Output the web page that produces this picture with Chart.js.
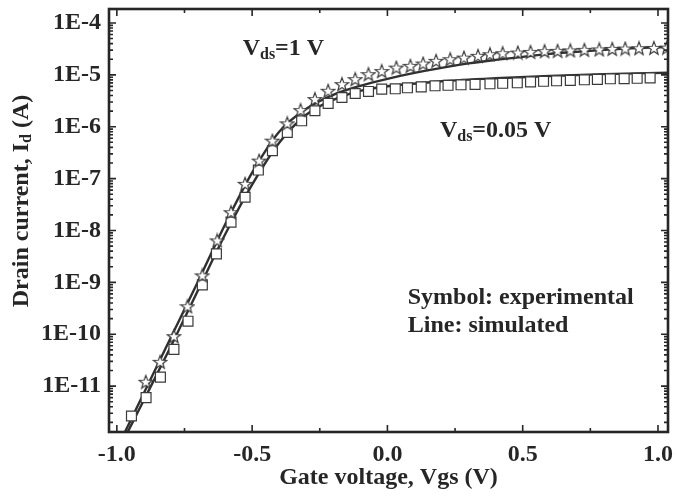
<!DOCTYPE html>
<html><head><meta charset="utf-8">
<script src="https://cdn.jsdelivr.net/npm/chart.js@4/dist/chart.umd.min.js"></script>
<style>html,body{margin:0;padding:0;background:#fff;}#wrap{width:677px;height:496px;}</style>
</head><body><div id="wrap"><canvas id="c" width="677" height="496"></canvas></div>
<script>
// Experimental points, Vds = 0.05 V (squares)
const vgsSquares = [-0.946,-0.892,-0.839,-0.789,-0.737,-0.684,-0.632,-0.578,-0.526,-0.477,-0.425,-0.370,-0.317,-0.268,-0.219,-0.168,-0.119,-0.070,-0.021,0.029,0.074,0.125,0.176,0.224,0.272,0.324,0.379,0.426,0.480,0.529,0.577,0.625,0.676,0.728,0.776,0.824,0.875,0.923,0.971];
const idSquares = [2.65e-12,6.0e-12,1.49e-11,5.1e-11,1.78e-10,8.95e-10,3.53e-9,1.45e-8,4.37e-8,1.46e-7,3.45e-7,7.76e-7,1.30e-6,2.03e-6,2.81e-6,3.66e-6,4.37e-6,4.78e-6,5.31e-6,5.38e-6,5.62e-6,5.87e-6,6.14e-6,6.28e-6,6.43e-6,6.56e-6,6.71e-6,6.87e-6,7.02e-6,7.33e-6,7.50e-6,7.67e-6,7.83e-6,8.02e-6,8.18e-6,8.38e-6,8.45e-6,8.57e-6,8.75e-6];
// Experimental points, Vds = 1 V (stars)
const vgsStars = [-0.893,-0.840,-0.789,-0.739,-0.684,-0.629,-0.578,-0.526,-0.474,-0.425,-0.370,-0.321,-0.268,-0.219,-0.168,-0.119,-0.070,-0.021,0.033,0.085,0.132,0.180,0.232,0.283,0.335,0.379,0.426,0.482,0.529,0.581,0.629,0.676,0.728,0.783,0.831,0.879,0.930,0.985,1.033];
const idStars = [1.21e-11,2.93e-11,9.16e-11,3.45e-10,1.36e-9,6.43e-9,2.25e-8,7.91e-8,2.22e-7,5.38e-7,1.16e-6,2.09e-6,3.41e-6,4.92e-6,6.62e-6,8.26e-6,1.03e-5,1.18e-5,1.38e-5,1.49e-5,1.65e-5,1.86e-5,2.00e-5,2.15e-5,2.32e-5,2.50e-5,2.61e-5,2.69e-5,2.77e-5,2.86e-5,2.90e-5,2.96e-5,3.03e-5,3.09e-5,3.16e-5,3.21e-5,3.26e-5,3.30e-5,3.35e-5];
// Simulated curves
const vgsSim1 = [-0.97,-0.9,-0.8,-0.7,-0.6,-0.5,-0.4,-0.3,-0.2,-0.1,0,0.1,0.2,0.3,0.4,0.5,0.6,0.7,0.8,0.9,1.04];
const idSim1  = [1.30e-12,7.33e-12,8.75e-11,1.04e-9,1.30e-8,1.30e-7,8.02e-7,2.22e-6,4.12e-6,6.14e-6,8.38e-6,1.09e-5,1.36e-5,1.66e-5,1.94e-5,2.22e-5,2.54e-5,2.77e-5,3.03e-5,3.24e-5,3.45e-5];
const vgsSim2 = [-0.96,-0.9,-0.8,-0.7,-0.6,-0.5,-0.4,-0.3,-0.2,-0.1,0,0.2,0.4,0.6,0.8,1.04];
const idSim2  = [1.30e-12,5.38e-12,5.87e-11,7.01e-10,8.38e-9,7.67e-8,4.92e-7,1.70e-6,3.30e-6,4.92e-6,6.01e-6,7.50e-6,8.60e-6,9.50e-6,1.03e-5,1.10e-5];
// Axis ticks
const xTickValues = [-1.0,-0.5,0.0,0.5,1.0];
const xTickLabels = ['-1.0','-0.5','0.0','0.5','1.0'];
const xMinorTicks = [-0.75,-0.25,0.25,0.75];
const yTickValues = [1e-11,1e-10,1e-9,1e-8,1e-7,1e-6,1e-5,1e-4];
const yTickLabels = ['1E-11','1E-10','1E-9','1E-8','1E-7','1E-6','1E-5','1E-4'];
// Text annotations (anchored in data units: left x, baseline y)
const notes = [
  {x:-0.535, y:2.4e-5, main:'V', sub:'ds', rest:'=1 V'},
  {x:0.194, y:6.2e-7, main:'V', sub:'ds', rest:'=0.05 V'},
  {x:0.075, y:3.9e-10, main:'Symbol: experimental', sub:'', rest:''},
  {x:0.075, y:1.1e-10, main:'Line: simulated', sub:'', rest:''}
];

const FONT = "'Liberation Serif','Times New Roman',serif";
const INK = '#262626';

function pts(xs, ys){ return xs.map((x,i)=>({x:x, y:ys[i]})); }

// five-point star marker
const star = document.createElement('canvas');
star.width = 16; star.height = 16;
(function(){
  const g = star.getContext('2d');
  g.beginPath();
  for (let i=0;i<10;i++){
    const r = i%2===0 ? 7 : 2.9;
    const a = -Math.PI/2 + i*Math.PI/5;
    const px = 8 + r*Math.cos(a), py = 8.6 + r*Math.sin(a);
    if(i===0) g.moveTo(px,py); else g.lineTo(px,py);
  }
  g.closePath();
  g.fillStyle = '#fff'; g.fill();
  g.lineWidth = 1.2; g.strokeStyle = '#3a3a3a'; g.stroke();
})();

const decor = {
  id:'decor',
  beforeDraw(chart){
    const c = chart.ctx; c.save(); c.fillStyle='#fff'; c.fillRect(0,0,chart.width,chart.height); c.restore();
  },
  afterDatasetsDraw(chart){
    const c = chart.ctx, a = chart.chartArea, xs = chart.scales.x, ys = chart.scales.y;
    c.save();
    c.strokeStyle = INK; c.lineCap='butt';
    // inward ticks
    c.lineWidth = 1.6;
    c.beginPath();
    xTickValues.forEach(v=>{ const p = xs.getPixelForValue(v); c.moveTo(p,a.bottom); c.lineTo(p,a.bottom-7); c.moveTo(p,a.top); c.lineTo(p,a.top+7); });
    xMinorTicks.forEach(v=>{ const p = xs.getPixelForValue(v); c.moveTo(p,a.bottom); c.lineTo(p,a.bottom-4); c.moveTo(p,a.top); c.lineTo(p,a.top+4); });
    yTickValues.forEach(v=>{ const p = ys.getPixelForValue(v); c.moveTo(a.left,p); c.lineTo(a.left+7,p); c.moveTo(a.right,p); c.lineTo(a.right-7,p); });
    for (let e=-12;e<=-4;e++){
      for (let k=2;k<=9;k++){
        const v = k*Math.pow(10,e);
        if (v < ys.min || v > ys.max) continue;
        const p = ys.getPixelForValue(v);
        c.moveTo(a.left,p); c.lineTo(a.left+4,p); c.moveTo(a.right,p); c.lineTo(a.right-4,p);
      }
    }
    c.stroke();
    // frame
    c.lineWidth = 2.6;
    c.strokeRect(a.left, a.top, a.right-a.left, a.bottom-a.top);
    // y axis title with subscript
    c.fillStyle = INK;
    c.translate(22, 201);
    c.rotate(-Math.PI/2);
    const f1 = 'bold 24px '+FONT, f2 = 'bold 16px '+FONT;
    const s1 = 'Drain current, I', s2 = 'd', s3 = ' (A)';
    c.font = f1; const w1 = c.measureText(s1).width, w3 = c.measureText(s3).width;
    c.font = f2; const w2 = c.measureText(s2).width;
    let x0 = -(w1+w2+w3)/2;
    c.textBaseline = 'middle'; c.textAlign='left';
    c.font = f1; c.fillText(s1, x0, 0);
    c.font = f2; c.fillText(s2, x0+w1, 5);
    c.font = f1; c.fillText(s3, x0+w1+w2, 0);
    c.setTransform(1,0,0,1,0,0);
    // annotations
    c.textBaseline = 'alphabetic'; c.textAlign = 'left';
    notes.forEach(n=>{
      let px = xs.getPixelForValue(n.x), py = ys.getPixelForValue(n.y);
      c.font = 'bold 24px '+FONT; c.fillText(n.main, px, py); px += c.measureText(n.main).width;
      if (n.sub){ c.font = 'bold 16px '+FONT; c.fillText(n.sub, px, py+4); px += c.measureText(n.sub).width; }
      if (n.rest){ c.font = 'bold 24px '+FONT; c.fillText(n.rest, px, py); }
    });
    c.restore();
  }
};

new Chart(document.getElementById('c'), {
  type:'scatter',
  data:{ datasets:[
    { label:'Vds=1 V experimental', data:pts(vgsStars,idStars), pointStyle:star, pointRadius:8, order:0, showLine:false },
    { label:'Vds=0.05 V experimental', data:pts(vgsSquares,idSquares), pointStyle:'rect', pointRadius:7, pointBackgroundColor:'#fff', pointBorderColor:'#3a3a3a', pointBorderWidth:1.2, order:0, showLine:false },
    { label:'Vds=1 V simulated', data:pts(vgsSim1,idSim1), showLine:true, pointRadius:0, borderColor:'#303030', borderWidth:2.4, cubicInterpolationMode:'monotone', order:1 },
    { label:'Vds=0.05 V simulated', data:pts(vgsSim2,idSim2), showLine:true, pointRadius:0, borderColor:'#303030', borderWidth:2.4, cubicInterpolationMode:'monotone', order:1 }
  ]},
  options:{
    responsive:false, animation:false, devicePixelRatio:1,
    layout:{ padding:{ top:8, right:5, left:0, bottom:0 } },
    plugins:{ legend:{display:false}, tooltip:{enabled:false} },
    scales:{
      x:{ type:'linear', min:-1.029, max:1.037, position:'bottom',
          grid:{display:false, drawTicks:false}, border:{display:false},
          afterBuildTicks:(s)=>{ s.ticks = xTickValues.map(v=>({value:v})); },
          afterFit:(s)=>{ s.height = 64; s.paddingLeft = 0; s.paddingRight = 0; },
          ticks:{ color:INK, padding:8, maxRotation:0, autoSkip:false, font:{family:FONT, size:24, weight:'bold'},
                  callback:(v)=>{ const i = xTickValues.findIndex(t=>Math.abs(t-v)<1e-6); return i>=0 ? xTickLabels[i] : ''; } },
          title:{ display:true, text:'Gate voltage, Vgs (V)', color:INK, font:{family:FONT, size:24, weight:'bold'}, padding:{top:0,bottom:4} } },
      y:{ type:'logarithmic', min:1.303e-12, max:1.858e-4,
          grid:{display:false, drawTicks:false}, border:{display:false},
          afterBuildTicks:(s)=>{ s.ticks = yTickValues.map(v=>({value:v})); },
          afterFit:(s)=>{ s.width = 109; s.paddingTop = 0; s.paddingBottom = 0; },
          ticks:{ color:INK, padding:8, autoSkip:false, font:{family:FONT, size:24, weight:'bold'},
                  callback:(v)=>{ const i = yTickValues.findIndex(t=>Math.abs(Math.log10(t/v))<1e-3); return i>=0 ? yTickLabels[i] : ''; } },
          title:{ display:false } }
    }
  },
  plugins:[decor]
});
</script>
</body></html>
